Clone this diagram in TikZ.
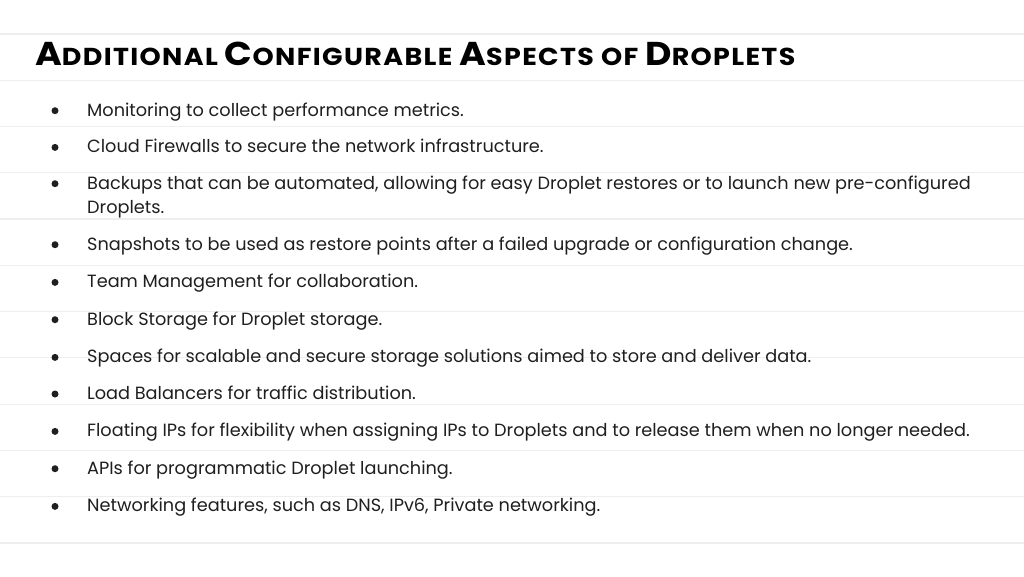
\documentclass[tikz,border=0pt]{standalone}
\usepackage{fontspec}
\setmainfont{Poppins}
\newfontfamily\titlefont{Poppins}[FakeStretch=1.10, LetterSpace=5.5]
\definecolor{textgray}{HTML}{1F1F1F}
\definecolor{rulegray}{HTML}{EEEEEE}
\newcommand\fsc[2]{{\fontsize{33}{33}\selectfont #1}{\fontsize{24.5}{24.5}\selectfont #2}}
\begin{document}
\begin{tikzpicture}[x=1pt,y=-1pt,
  txt/.style={anchor=base west, inner sep=0pt, font=\fontsize{17.7}{24}\selectfont, text=textgray},
  bul/.style={circle, fill=textgray, inner sep=0pt, minimum size=7pt},
  rulel/.style={draw=rulegray, line width=1.2pt}]
\useasboundingbox[fill=white] (0,0) rectangle (1024,576);
\foreach \k in {0,...,11} \draw[rulel] (0,{34+46.27*\k}) -- (1024,{34+46.27*\k});
\node[anchor=base west, inner sep=0pt, font=\titlefont\bfseries\fontsize{24.5}{24.5}\selectfont, text=black] (title) at (35,65)
  {\fsc{A}{DDITIONAL} \fsc{C}{ONFIGURABLE} \fsc{A}{SPECTS} OF \fsc{D}{ROPLETS}};
\foreach \y/\t [count=\i] in {
  116/{Monitoring to collect performance metrics.},
  152.7/{Cloud Firewalls to secure the network infrastructure.},
  189/{Backups that can be automated, allowing for easy Droplet restores or to launch new pre-configured},
  250/{Snapshots to be used as restore points after a failed upgrade or configuration change.},
  287.7/{Team Management for collaboration.},
  325/{Block Storage for Droplet storage.},
  362.7/{Spaces for scalable and secure storage solutions aimed to store and deliver data.},
  399.3/{Load Balancers for traffic distribution.},
  436.7/{Floating IPs for flexibility when assigning IPs to Droplets and to release them when no longer needed.},
  474/{APIs for programmatic Droplet launching.},
  511.7/{Networking features, such as DNS, IPv6, Private networking.}}
{
  \node[bul] (b\i) at (55,\y-5.3) {};
  \node[txt] (t\i) at (87,\y) {\t};
}
\node[txt] (t3b) at (87,213) {Droplets.};
\end{tikzpicture}
\end{document}
